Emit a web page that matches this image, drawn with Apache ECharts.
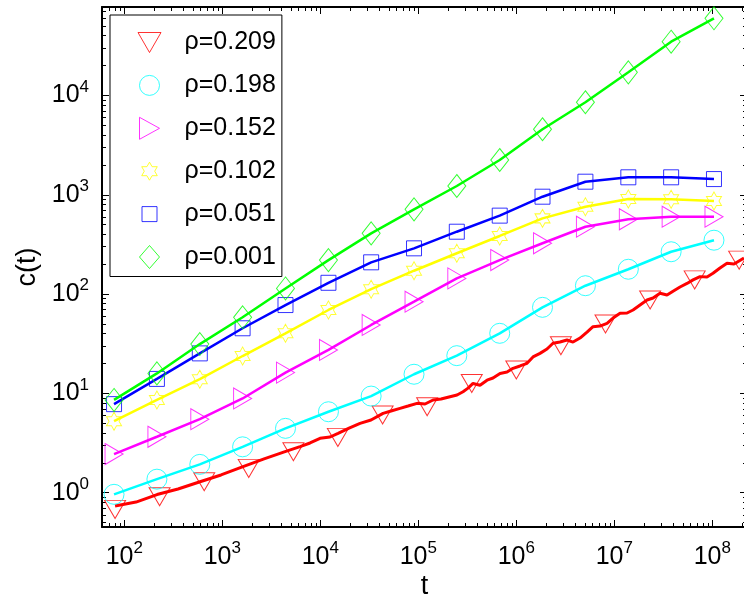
<!DOCTYPE html>
<html><head><meta charset="utf-8">
<script src="https://cdn.jsdelivr.net/npm/echarts@6/dist/echarts.min.js"></script>
<style>html,body{margin:0;padding:0;background:#fff}#c{width:744px;height:596px}</style>
</head><body><div id="c"></div>
<script>
const FONT = 'Liberation Sans, Arial, Helvetica, sans-serif';

// ---- axis ticks (decade exponents) ----
const xExponents = [2, 3, 4, 5, 6, 7, 8];
const yExponents = [0, 1, 2, 3, 4];
const minorMultipliers = [2, 3, 4, 5, 6, 7, 8, 9];
const xLogMin = 1.772, xLogMax = 8.354;
const yLogMin = -0.345, yLogMax = 4.891;

// ---- series ----
const seriesNames = ['ρ=0.209', 'ρ=0.198', 'ρ=0.152', 'ρ=0.102', 'ρ=0.051', 'ρ=0.001'];
const seriesColors = ['#ff0000', '#00ffff', '#ff00ff', '#ffff00', '#0000ff', '#00ff00'];

// common sampling times of the markers (and line vertices) for the five smoother series
const markerT = [78.5, 215, 589, 1610, 4410, 12100, 33000, 90400, 247000, 677000, 1.85e6, 5.07e6, 1.39e7, 3.80e7, 1.04e8];
const cyanC    = [0.964, 1.37, 1.93, 2.9, 4.45, 6.54, 9.4, 15.6, 24, 40.3, 73.6, 121.5, 178, 267, 349];
const magentaC = [2.45, 3.66, 5.5, 8.9, 16.2, 27.4, 48.9, 83.9, 144, 220, 325, 477, 567, 602, 602];
const yellowC  = [5.25, 8.6, 13.9, 23.8, 40.3, 69.2, 112, 172, 258, 385, 579, 759, 907, 901, 866];
const blueC    = [7.8, 14, 25.3, 45.3, 77.6, 130, 209, 289, 425, 617, 957, 1355, 1500, 1500, 1440];
const greenC   = [8.6, 15.9, 31.4, 58.4, 114, 220, 409, 714, 1227, 2240, 4570, 8550, 17100, 34800, 59900];

// red (ρ=0.209): noisy curve and its own marker times
const redLineT = [80.4, 131.6, 215.6, 353, 592, 970, 1626, 2666, 4365, 6209, 7852, 9931, 12560, 15170, 19640, 25420, 32900, 43650, 52640, 65060,
  78520, 97010, 117100, 141300, 170500, 210500, 248200, 285900, 321400, 361500, 426300, 502400, 578400, 682100, 804100, 925400,
  1.091e6, 1.286e6, 1.480e6, 1.744e6, 2.056e6, 2.367e6, 2.790e6, 3.290e6, 3.790e6, 4.467e6, 5.265e6, 6.062e6, 7.146e6, 8.425e6, 9.703e6,
  1.144e7, 1.348e7, 1.553e7, 1.830e7, 2.157e7, 2.484e7, 2.927e7, 3.450e7, 3.973e7, 4.683e7, 5.519e7, 6.357e7, 7.491e7, 8.828e7,
  1.016e8, 1.198e8, 1.412e8, 1.665e8, 2.104e8];
const redLineC = [0.735, 0.806, 0.959, 1.09, 1.29, 1.51, 1.83, 2.19, 2.59, 2.91, 3.17, 3.53, 3.64, 3.97, 4.48, 5.0, 5.40, 6.30, 6.65, 7.08,
  7.47, 7.95, 7.82, 8.58, 8.78, 9.27, 9.63, 10.4, 11.3, 12.6, 12.1, 13.6, 14.3, 15.9, 16.4, 17.9,
  18.9, 20.1, 23.3, 25.3, 28.0, 32.0, 32.9, 34.5, 32.9, 36.1, 41.5, 47.0, 47.7, 50.8, 57.4,
  64.1, 64.5, 69.2, 77.7, 87.2, 91.3, 102, 97.9, 107, 118, 128, 139, 150, 149,
  162, 183, 204, 201, 231];
const redMarkerT = [80.4, 229, 653, 1860, 5310, 15100, 43200, 123000, 351000, 1.0e6, 2.85e6, 8.13e6, 2.32e7, 6.61e7, 1.88e8];
const redMarkerC = [0.68, 0.91, 1.29, 1.76, 2.59, 3.61, 6.06, 7.35, 12.6, 17.2, 30.2, 50, 87.1, 139, 220];

const plotSymbols = [
  'path://M0,0L20,0L10,17Z',
  'circle',
  'path://M0,0L17,10L0,20Z',
  'path://M0,-10L2.887,-5L8.66,-5L5.774,0L8.66,5L2.887,5L0,10L-2.887,5L-8.66,5L-5.774,0L-8.66,-5L-2.887,-5Z',
  'rect',
  'diamond'
];
const plotSymbolSizes = [[21, 18], 20, [18, 21], [15, 18], 15, [18, 23]];
const legendIcons = [
  'path://M0,0M24,24M0.5,2L23.5,2L12,22Z',
  'path://M0,0M24,24M2,12A10,10 0 1,0 22,12A10,10 0 1,0 2,12Z',
  'path://M0,0M24,24M2,1L22,12L2,23Z',
  'path://M0,0M24,24M12,3L14.6,7.5L19.79,7.5L17.2,12L19.79,16.5L14.6,16.5L12,21L9.4,16.5L4.21,16.5L6.8,12L4.21,7.5L9.4,7.5Z',
  'path://M0,0M24,24M4.5,4.5L19.5,4.5L19.5,19.5L4.5,19.5Z',
  'path://M0,0M24,24M12,0.5L22,12L12,23.5L2,12Z'
];

function minorValues(lo, hi) {
  const out = [];
  for (let n = Math.floor(lo) - 1; n <= Math.ceil(hi); n++) {
    for (const k of minorMultipliers) {
      const v = n + Math.log10(k);
      if (v > lo && v < hi) out.push(v);
    }
  }
  return out;
}
const toLog = (ts, cs) => ts.map((t, i) => [Math.log10(t), Math.log10(cs[i])]);

const labelRich = {
  b: { fontSize: 25, fontFamily: FONT, color: '#000', lineHeight: 34 },
  s: { fontSize: 17, fontFamily: FONT, color: '#000', verticalAlign: 'top', lineHeight: 17 }
};
const fmt = v => '{b|10}{s|' + Math.round(v) + '}';

function makeAxis(min, max, position, tickValues, tickLen, withLine, label, extra) {
  return Object.assign({
    type: 'value', min, max, position,
    axisLine: { show: withLine, onZero: false, lineStyle: { color: '#000', width: 2 } },
    axisTick: { show: true, inside: true, length: tickLen, customValues: tickValues, lineStyle: { color: '#000', width: 1 } },
    axisLabel: label ? Object.assign({ show: true, customValues: tickValues, formatter: fmt, rich: labelRich }, label) : { show: false },
    splitLine: { show: false },
    minorTick: { show: false },
    nameMoveOverlap: false
  }, extra || {});
}

const xMajor = xExponents.slice(), yMajor = yExponents.slice();
const xMinor = minorValues(xLogMin, xLogMax), yMinor = minorValues(yLogMin, yLogMax);

const lineData = [toLog(redLineT, redLineC), toLog(markerT, cyanC), toLog(markerT, magentaC), toLog(markerT, yellowC), toLog(markerT, blueC), toLog(markerT, greenC)];
const markData = [toLog(redMarkerT, redMarkerC), toLog(markerT, cyanC), toLog(markerT, magentaC), toLog(markerT, yellowC), toLog(markerT, blueC), toLog(markerT, greenC)];

const series = [];
seriesNames.forEach((name, i) => {
  series.push({
    type: 'line', name: 'line ' + name, data: lineData[i], xAxisIndex: 0, yAxisIndex: 0,
    showSymbol: false, symbol: 'none', clip: true,
    lineStyle: { color: seriesColors[i], width: i === 0 ? 3 : 2.5 }, z: 2 + i * 2
  });
  series.push({
    type: 'scatter', name, data: markData[i], xAxisIndex: 0, yAxisIndex: 0,
    symbol: plotSymbols[i], symbolSize: plotSymbolSizes[i], clip: true,
    itemStyle: { color: 'rgba(0,0,0,0)', borderColor: seriesColors[i], borderWidth: 1 }, z: 3 + i * 2
  });
});

const chart = echarts.init(document.getElementById('c'), null, { renderer: 'canvas' });
chart.setOption({
  animation: false,
  backgroundColor: '#fff',
  grid: { left: 102, top: 7, right: -3, bottom: 69, outerBoundsMode: 'none', containLabel: false },
  xAxis: [
    makeAxis(xLogMin, xLogMax, 'bottom', xMajor, 7, true, { margin: 13 },
      { name: 't', nameLocation: 'middle', nameGap: 46, nameTextStyle: { fontFamily: FONT, fontSize: 27, color: '#000' } }),
    makeAxis(xLogMin, xLogMax, 'bottom', xMinor, 4, false, null),
    makeAxis(xLogMin, xLogMax, 'top', xMajor, 7, true, null),
    makeAxis(xLogMin, xLogMax, 'top', xMinor, 4, false, null)
  ],
  yAxis: [
    makeAxis(yLogMin, yLogMax, 'left', yMajor, 7, true, { margin: 13 },
      { name: 'c(t)', nameLocation: 'middle', nameGap: 61, nameRotate: 90, nameTextStyle: { fontFamily: FONT, fontSize: 27, color: '#000' } }),
    makeAxis(yLogMin, yLogMax, 'left', yMinor, 4, false, null),
    makeAxis(yLogMin, yLogMax, 'right', yMajor, 7, false, null),
    makeAxis(yLogMin, yLogMax, 'right', yMinor, 4, false, null)
  ],
  legend: {
    orient: 'vertical', left: 110, top: 15,
    padding: [15, 6, 7, 27],
    itemWidth: 24, itemHeight: 24, itemGap: 17.9,
    borderColor: '#000', borderWidth: 1, borderRadius: 0, backgroundColor: '#fff',
    symbolKeepAspect: false, selectedMode: false,
    textStyle: { fontFamily: FONT, fontSize: 25, color: '#000', lineHeight: 24, padding: [0, 0, 0, 18] },
    data: seriesNames.map((n, i) => ({
      name: n, icon: legendIcons[i],
      itemStyle: { color: 'rgba(0,0,0,0)', borderColor: seriesColors[i], borderWidth: 1 }
    }))
  },
  series
});
</script></body></html>
